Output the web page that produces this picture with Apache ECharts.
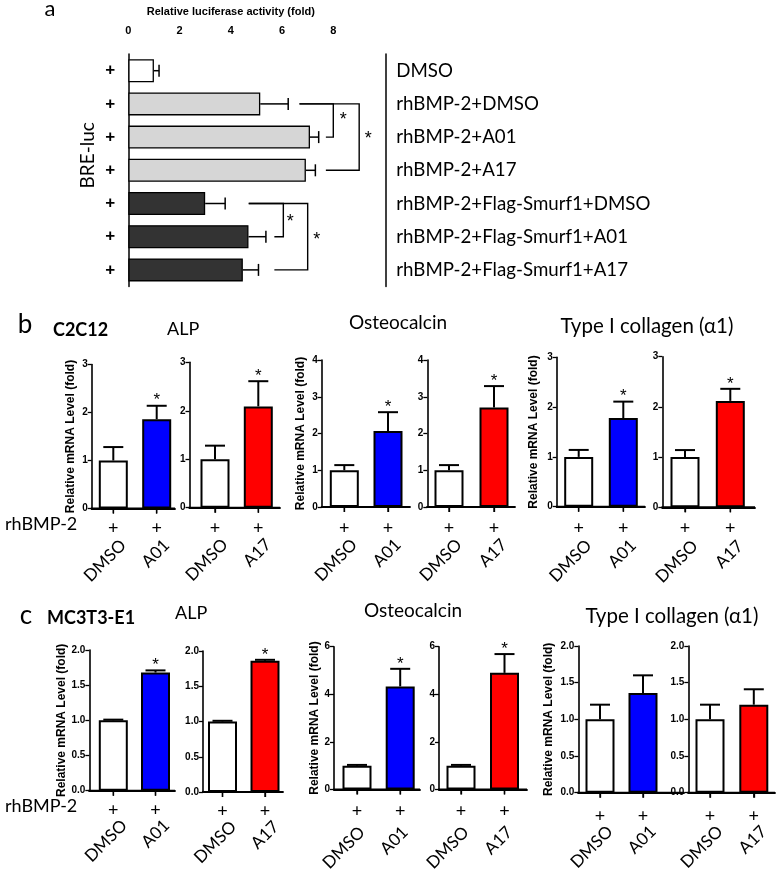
<!DOCTYPE html>
<html><head><meta charset="utf-8">
<script src="https://cdn.jsdelivr.net/npm/echarts@6/dist/echarts.min.js"></script>
<style>html,body{margin:0;padding:0;background:#fff}#c{width:781px;height:874px}</style>
</head><body><div id="c"></div>
<script>
// ================= DATA =================
// Panel a
const aRows = ['DMSO','rhBMP-2+DMSO','rhBMP-2+A01','rhBMP-2+A17','rhBMP-2+Flag-Smurf1+DMSO','rhBMP-2+Flag-Smurf1+A01','rhBMP-2+Flag-Smurf1+A17'];
const aPlus = ['+','+','+','+','+','+','+'];
const aMean = [1.0, 5.15, 7.09, 6.93, 3.0, 4.69, 4.47];
const aSem  = [0.2, 1.09, 0.34, 0.37, 0.78, 0.68, 0.61];
const aGroup = ['none','bmp','bmp','bmp','smurf','smurf','smurf'];
const aTicks = ['0','2','4','6','8'];
const aTickValues = [0,2,4,6,8];

// Panels b / c
const treatA01 = ['DMSO','A01'];
const treatA17 = ['DMSO','A17'];
const rhLabel = ['+','+'];

const bAlpA01 = [1.0, 1.86], bAlpA01Sem = [0.28, 0.28], bAlpA01Sig = [0,1];
const bAlpA17 = [1.0, 2.09], bAlpA17Sem = [0.28, 0.52], bAlpA17Sig = [0,1];
const bOcnA01 = [1.0, 2.07], bOcnA01Sem = [0.14, 0.51], bOcnA01Sig = [0,1];
const bOcnA17 = [1.0, 2.71], bOcnA17Sem = [0.14, 0.58], bOcnA17Sig = [0,1];
const bColA01 = [1.0, 1.78], bColA01Sem = [0.14, 0.33], bColA01Sig = [0,1];
const bColA17 = [1.0, 2.12], bColA17Sem = [0.14, 0.24], bColA17Sig = [0,1];

const cAlpA01 = [1.0, 1.68], cAlpA01Sem = [0.01, 0.03], cAlpA01Sig = [0,1];
const cAlpA17 = [1.0, 1.86], cAlpA17Sem = [0.01, 0.015], cAlpA17Sig = [0,1];
const cOcnA01 = [1.0, 4.33], cOcnA01Sem = [0.03, 0.74], cOcnA01Sig = [0,1];
const cOcnA17 = [1.0, 4.9],  cOcnA17Sem = [0.03, 0.79], cOcnA17Sig = [0,1];
const cColA01 = [1.0, 1.36], cColA01Sem = [0.2, 0.24],  cColA01Sig = [0,0];
const cColA17 = [1.0, 1.2],  cColA17Sem = [0.2, 0.21],  cColA17Sig = [0,0];

const ticks3 = ['0','1','2','3'];
const ticks4 = ['0','1','2','3','4'];
const ticks2d = ['0.0','0.5','1.0','1.5','2.0'];
const ticks6 = ['0','2','4','6'];

// ================= STYLE / LAYOUT =================
const SANS = '"Liberation Sans", Arial, sans-serif';
const CAL = 'Lato, "Open Sans", sans-serif';
const groupColor = {none:'#ffffff', bmp:'#d6d6d6', smurf:'#333333'};
const drugColor = {A01:'#0000ff', A17:'#ff0000'};

const grids = [], xAxes = [], yAxes = [], series = [], titles = [];

// ---------- Panel a ----------
grids.push({left:128.3, top:54.1, width:205, height:232.4});
xAxes.push({
  type:'value', gridIndex:0, position:'top', offset:12, min:0, max:8, interval:1,
  name:'Relative luciferase activity (fold)', nameLocation:'middle', nameGap:25,
  nameTextStyle:{fontFamily:SANS, fontWeight:'bold', fontSize:11, color:'#000'},
  axisLine:{onZero:false, lineStyle:{color:'#000', width:1.5}},
  axisTick:{length:4, lineStyle:{color:'#000', width:1.3}},
  axisLabel:{formatter:v => { const k = aTickValues.indexOf(v); return k >= 0 ? aTicks[k] : ''; },
    fontFamily:SANS, fontWeight:'bold', fontSize:11, color:'#000', margin:6},
  splitLine:{show:false}
});
yAxes.push({
  type:'category', gridIndex:0, inverse:true, data:aRows, position:'left',
  axisLine:{show:true, onZero:false, lineStyle:{color:'#000', width:1.5}},
  axisTick:{alignWithLabel:true, length:3, lineStyle:{color:'#000', width:1.3}},
  axisLabel:{formatter:(v,i) => aPlus[i], fontFamily:SANS, fontWeight:'bold', fontSize:17, color:'#000', margin:13},
  name:'BRE-luc', nameLocation:'middle', nameRotate:90, nameGap:31,
  nameTextStyle:{fontFamily:CAL, fontSize:19, color:'#000', padding:[0,0,0,30]}
});
yAxes.push({
  type:'category', gridIndex:0, inverse:true, data:aRows, position:'right', offset:52,
  axisLine:{show:true, onZero:false, lineStyle:{color:'#000', width:1.5}},
  axisTick:{alignWithLabel:true, inside:true, length:9, lineStyle:{color:'#000', width:1.3}},
  axisLabel:{fontFamily:CAL, fontSize:18.7, color:'#000', margin:11}
});
series.push({
  type:'bar', xAxisIndex:0, yAxisIndex:0, barWidth:23, animation:false, silent:true,
  data:aMean.map((v,i) => ({value:v, itemStyle:{color:groupColor[aGroup[i]]}})),
  itemStyle:{borderColor:'#000', borderWidth:1.3}
});
series.push({
  type:'custom', xAxisIndex:0, yAxisIndex:0, animation:false, silent:true,
  encode:{x:1, y:0},
  data:aMean.map((m,i) => [i, m, aSem[i]]),
  renderItem(p, api){
    const i = api.value(0), m = api.value(1), e = api.value(2);
    const p0 = api.coord([m, i]), p1 = api.coord([m + e, i]);
    return {type:'group', children:[
      {type:'line', shape:{x1:p0[0], y1:p0[1], x2:p1[0], y2:p1[1]}, style:{stroke:'#000', lineWidth:1.5}},
      {type:'line', shape:{x1:p1[0], y1:p1[1]-6, x2:p1[0], y2:p1[1]+6}, style:{stroke:'#000', lineWidth:1.5}}
    ]};
  }
});
// significance brackets (rows compared; start x of each arm and vertical x, in axis units)
const aBrackets = [
  {rows:[1,2], starts:[6.68,7.71], vx:8.0,  starDx:10, starF:0.35},
  {rows:[1,3], starts:[6.68,7.71], vx:9.01, starDx:9,  starF:0.45},
  {rows:[4,5], starts:[4.7,5.7],   vx:6.05, starDx:7,  starF:0.42},
  {rows:[4,6], starts:[4.7,5.7],   vx:7.0,  starDx:9,  starF:0.48}
];
series.push({
  type:'custom', xAxisIndex:0, yAxisIndex:0, animation:false, silent:true, clip:false,
  encode:{x:0, y:1},
  data:aBrackets.map((b,k) => [b.vx, b.rows[0], k]),
  renderItem(p, api){
    const b = aBrackets[api.value(2)];
    const t0 = api.coord([b.starts[0], b.rows[0]]);
    const t1 = api.coord([b.starts[1], b.rows[1]]);
    const v0 = api.coord([b.vx, b.rows[0]]);
    const v1 = api.coord([b.vx, b.rows[1]]);
    const sy = v0[1] + (v1[1] - v0[1]) * b.starF;
    const st = {stroke:'#000', lineWidth:1.4};
    return {type:'group', children:[
      {type:'polyline', shape:{points:[t0, v0, v1, t1]}, style:Object.assign({fill:null}, st)},
      {type:'text', x:v0[0] + b.starDx, y:sy + 5, style:{text:'*', font:'18px ' + SANS, fill:'#000',
        align:'center', verticalAlign:'middle', textAlign:'center', textVerticalAlign:'middle'}}
    ]};
  }
});

// ---------- Panels b, c ----------
// grid: [axisX, axisEnd, center1, center2, top, bottom]
const small = [
  {grid:[91.7,175,113.3,156.7,364.5,508.5], cats:treatA01, mean:bAlpA01, sem:bAlpA01Sem, sig:bAlpA01Sig, drug:'A01', ticks:ticks3, step:1, yName:15, plus:21, lab:[34,10]},
  {grid:[189.5,280,215,258.3,362.3,507.7], cats:treatA17, mean:bAlpA17, sem:bAlpA17Sem, sig:bAlpA17Sig, drug:'A17', ticks:ticks3, step:1, yName:0, plus:21.5, lab:[34,10]},
  {grid:[321.7,410,344.3,388,360,507], cats:treatA01, mean:bOcnA01, sem:bOcnA01Sem, sig:bOcnA01Sig, drug:'A01', ticks:ticks4, step:1, yName:15, plus:22, lab:[35,10]},
  {grid:[427.3,515,449,494,360,507], cats:treatA17, mean:bOcnA17, sem:bOcnA17Sem, sig:bOcnA17Sig, drug:'A17', ticks:ticks4, step:1, yName:0, plus:22, lab:[35,10]},
  {grid:[556.7,645,578.7,623.3,357.3,506.7], cats:treatA01, mean:bColA01, sem:bColA01Sem, sig:bColA01Sig, drug:'A01', ticks:ticks3, step:1, yName:17.5, plus:22, lab:[36,10]},
  {grid:[662.3,755,685,730.3,356.7,507.3], cats:treatA17, mean:bColA17, sem:bColA17Sem, sig:bColA17Sig, drug:'A17', ticks:ticks3, step:1, yName:0, plus:22, lab:[36,10]},
  {grid:[89.3,175,113.3,155.5,650,790.7], cats:treatA01, mean:cAlpA01, sem:cAlpA01Sem, sig:cAlpA01Sig, drug:'A01', ticks:ticks2d, step:0.5, yName:13, plus:20, lab:[32,11]},
  {grid:[203,283,222.5,265,651,792], cats:treatA17, mean:cAlpA17, sem:cAlpA17Sem, sig:cAlpA17Sig, drug:'A17', ticks:ticks2d, step:0.5, yName:0, plus:20, lab:[32,11]},
  {grid:[334,420,357,400.2,646.7,792.3], cats:treatA01, mean:cOcnA01, sem:cOcnA01Sem, sig:cOcnA01Sig, drug:'A01', ticks:ticks6, step:2, yName:12.5, plus:23, lab:[40,5]},
  {grid:[439,527,461,504.5,646.7,792.3], cats:treatA17, mean:cOcnA17, sem:cOcnA17Sem, sig:cOcnA17Sig, drug:'A17', ticks:ticks6, step:2, yName:0, plus:23, lab:[40,5]},
  {grid:[578.3,684,600,643,646,792.7], cats:treatA01, mean:cColA01, sem:cColA01Sem, sig:cColA01Sig, drug:'A01', ticks:ticks2d, step:0.5, yName:24, plus:24, lab:[36,10]},
  {grid:[688.3,775,710,753.8,646,792.7], cats:treatA17, mean:cColA17, sem:cColA17Sem, sig:cColA17Sig, drug:'A17', ticks:ticks2d, step:0.5, yName:0, plus:24, lab:[36,10]}
];

small.forEach(cfg => {
  const [ax, end, c1, c2, top, bot] = cfg.grid;
  const s = c2 - c1;
  const gi = grids.length;
  grids.push({left:ax, top:top, width:end - ax, height:bot - top});
  const xmin = -(c1 - ax) / s, xmax = 1 + (end - c2) / s;
  const xi = xAxes.length;
  xAxes.push({
    type:'value', gridIndex:gi, position:'bottom', min:xmin, max:xmax,
    axisLine:{show:true, onZero:false, lineStyle:{color:'#000', width:1.8}},
    axisTick:{show:true, customValues:[0,1], length:5, lineStyle:{color:'#000', width:1.3}},
    axisLabel:{customValues:[0,1], formatter:v => rhLabel[Math.round(v)], fontFamily:CAL, fontSize:18, color:'#000', margin:cfg.plus - 10},
    splitLine:{show:false}
  });
  const sh = cfg.lab[1] / s;
  xAxes.push({
    type:'value', gridIndex:gi, position:'bottom', offset:cfg.lab[0] - 8, min:xmin - sh, max:xmax - sh,
    axisLine:{show:false, onZero:false}, axisTick:{show:false},
    axisLabel:{customValues:[0,1], formatter:v => cfg.cats[Math.round(v)], rotate:45, margin:8, fontFamily:CAL, fontSize:17, color:'#000'},
    splitLine:{show:false}
  });
  const yi = yAxes.length;
  const ymax = cfg.step * (cfg.ticks.length - 1);
  yAxes.push({
    type:'value', gridIndex:gi, position:'left', min:0, max:ymax, interval:cfg.step,
    axisLine:{show:true, onZero:false, lineStyle:{color:'#000', width:1.6}},
    axisTick:{show:true, length:4, lineStyle:{color:'#000', width:1.3}},
    axisLabel:{formatter:v => cfg.ticks[Math.round(v / cfg.step)], fontFamily:SANS, fontWeight:'bold', fontSize:10, color:'#000', margin:4},
    splitLine:{show:false},
    name: cfg.yName ? 'Relative mRNA Level (fold)' : '', nameLocation:'middle', nameRotate:90, nameGap:cfg.yName,
    nameTextStyle:{fontFamily:SANS, fontWeight:'bold', fontSize:12, color:'#000'}
  });
  series.push({
    type:'bar', xAxisIndex:xi, yAxisIndex:yi, barWidth:29, animation:false, silent:true,
    data:cfg.mean.map((m,i) => ({value:[i, m], itemStyle:{color: i === 0 ? '#ffffff' : drugColor[cfg.drug]}})),
    itemStyle:{borderColor:'#000', borderWidth:2}
  });
  series.push({
    type:'custom', xAxisIndex:xi, yAxisIndex:yi, animation:false, silent:true, clip:false, z:10,
    data:cfg.mean.map((m,i) => [i, m, cfg.sem[i], cfg.sig[i]]),
    renderItem(p, api){
      const x = api.value(0), m = api.value(1), e = api.value(2), sg = api.value(3);
      const p0 = api.coord([x, m]), p1 = api.coord([x, m + e]);
      const b0 = api.coord([x, 0]);
      const ln = {stroke:'#000', lineWidth:2};
      const ch = [
        {type:'line', shape:{x1:p0[0], y1:p0[1], x2:p1[0], y2:p1[1]}, style:ln},
        {type:'line', shape:{x1:p1[0] - 10, y1:p1[1], x2:p1[0] + 10, y2:p1[1]}, style:ln},
        {type:'line', shape:{x1:b0[0], y1:b0[1], x2:b0[0], y2:b0[1] + 5}, style:{stroke:'#000', lineWidth:1.4}}
      ];
      if (p.dataIndex === 0) {
        const l = api.coord([xmin, 0]), r = api.coord([xmax, 0]);
        ch.push({type:'line', shape:{x1:l[0] - 0.8, y1:l[1], x2:r[0], y2:r[1]}, style:{stroke:'#000', lineWidth:2}});
      }
      if (sg) ch.push({type:'text', x:p1[0], y:p1[1] - 5, style:{text:'*', font:'17px ' + SANS, fill:'#000',
        align:'center', verticalAlign:'middle', textAlign:'center', textVerticalAlign:'middle'}});
      return {type:'group', children:ch};
    }
  });
});

// ---------- Text labels (title components) ----------
function txt(t, x, y, size, opts){
  opts = opts || {};
  titles.push({text:t, left:x, top:y - size * 0.62, padding:0, textAlign:opts.align || 'left',
    textStyle:{fontFamily:opts.family || CAL, fontSize:size, fontWeight:opts.bold ? 'bold' : 'normal', color:'#000'}});
}
txt('a', 50, 12, 22, {align:'center'});
txt('b', 25, 328, 26, {align:'center'});
txt('C2C12', 53, 332, 18, {bold:true});
txt('ALP', 167, 331, 18);
txt('Osteocalcin', 398, 325, 19, {align:'center'});
txt('Type I collagen (\u03b11)', 647, 329, 20.5, {align:'center'});
txt('rhBMP-2', 5, 526, 18);
txt('c', 26, 619, 26, {align:'center'});
txt('MC3T3-E1', 47, 620, 18, {bold:true});
txt('ALP', 175, 615, 18);
txt('Osteocalcin', 413, 613, 19, {align:'center'});
txt('Type I collagen (\u03b11)', 672, 619, 20.5, {align:'center'});
txt('rhBMP-2', 5, 808, 18);

const chart = echarts.init(document.getElementById('c'), null, {renderer:'canvas', width:781, height:874});
chart.setOption({
  animation:false,
  backgroundColor:'#ffffff',
  title:titles, grid:grids, xAxis:xAxes, yAxis:yAxes, series:series
});
</script>
</body></html>
